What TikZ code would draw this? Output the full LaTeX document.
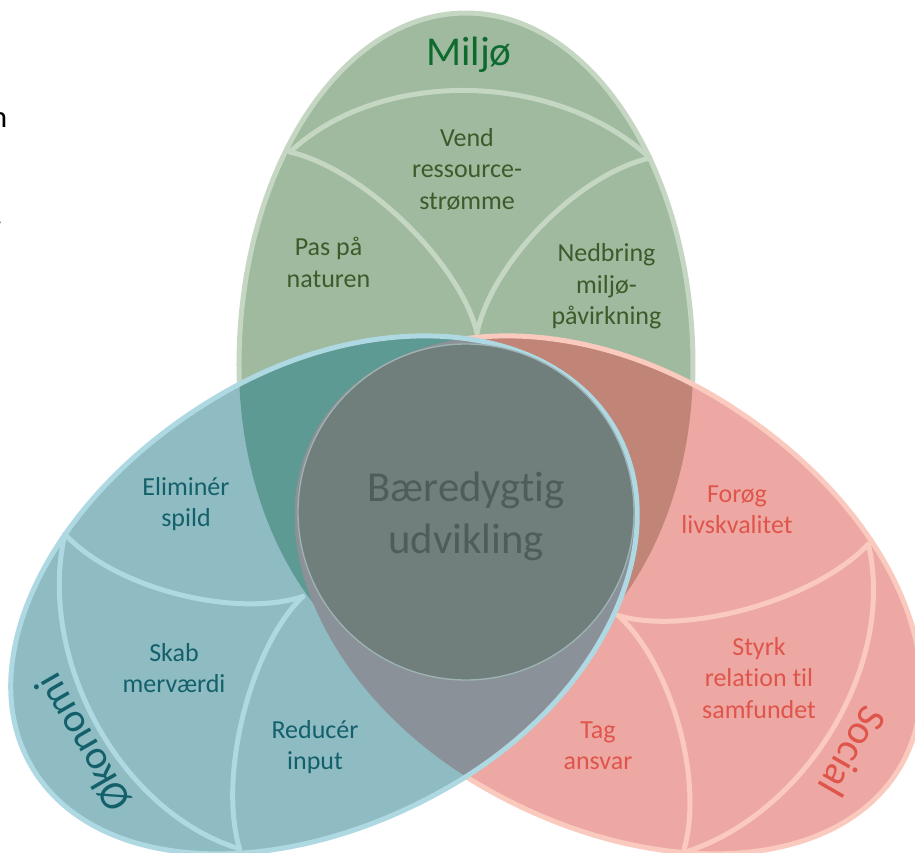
\documentclass[tikz,border=0pt]{standalone}
\usepackage{fontspec}
\setmainfont{Carlito}[Ligatures={NoCommon,NoContextual}]
\definecolor{gfill}{HTML}{9FBA9F}
\definecolor{gline}{HTML}{C5D7C2}
\definecolor{gtitle}{HTML}{0E6A2E}
\definecolor{gtext}{HTML}{3B5C2A}
\definecolor{bfill}{HTML}{8FBCC3}
\definecolor{bline}{HTML}{AED8E2}
\definecolor{btext}{HTML}{13606B}
\definecolor{rfill}{HTML}{EDA8A3}
\definecolor{rline}{HTML}{FACABE}
\definecolor{rtext}{HTML}{E0554B}
\definecolor{gbover}{HTML}{5E9A94}
\definecolor{grover}{HTML}{C08577}
\definecolor{brover}{HTML}{8A9199}
\definecolor{circfill}{HTML}{707F7C}
\definecolor{circline}{HTML}{9DB3B4}
\definecolor{circtext}{HTML}{4F5C59}
\newcommand\petal[2][]{\path[#2] #1 (227,150) arc[start angle=0,end angle=180,x radius=227,y radius=352] arc[start angle=180,end angle=360,x radius=227,y radius=322] -- cycle;}
\newcommand\bigcw{(-3000,-3000) -- (-3000,3000) -- (3000,3000) -- (3000,-3000) -- cycle}
\begin{document}
\begin{tikzpicture}[x=0.75pt,y=0.75pt,
  item/.style={align=center,inner sep=0pt,font=\fontsize{19.5}{23.6}\selectfont},
  title/.style={inner sep=0pt,font=\fontsize{30.75}{36}\selectfont},
  centertext/.style={align=center,inner sep=0pt,text=circtext,font=\fontsize{32}{39}\selectfont},
  stray/.style={inner sep=0pt,text=black,font=\fontsize{23}{28}\selectfont},
  divider/.style={line width=3.75pt,line cap=round},
  outline/.style={line width=3.75pt}]
\useasboundingbox (-466,-338) rectangle (449,515);
\clip (-466,-338) rectangle (449,515);
% fills
\petal{fill=gfill}
\petal{fill=rfill,rotate=-120}
\petal{fill=bfill,rotate=120}
% overlaps
\begin{scope}\petal{clip,rotate=120}\petal{fill=gbover}\end{scope}
\begin{scope}\petal{clip,rotate=-120}\petal{fill=grover}\end{scope}
\begin{scope}\petal{clip,rotate=120}\petal{fill=brover,rotate=-120}\end{scope}
% dividers
\foreach \ang/\col in {0/gline,120/bline,-120/rline}{
  \begin{scope}[rotate=\ang]
    \draw[divider,draw=\col] (-176,363) .. controls (-85,448) and (90,444) .. (184,357);
    \draw[divider,draw=\col] (-176,363) .. controls (-100,345) and (-5,250) .. (11,182);
    \draw[divider,draw=\col] (184,357) .. controls (110,340) and (25,250) .. (11,182);
  \end{scope}}
% outlines (each one hidden where a later petal lies over it)
\begin{scope}
  \petal[\bigcw]{clip,rotate=120}
  \begin{scope}
    \petal[\bigcw]{clip,rotate=-120}
    \petal{draw=gline,outline}
  \end{scope}
  \petal{draw=rline,outline,rotate=-120}
\end{scope}
\petal{draw=bline,outline,rotate=120}
% centre circle
\path[fill=circfill,draw=circline,line width=1pt] (0,3) circle[radius=168];
% texts
\node[title,text=gtitle] (miljo) at (3,460) {Miljø};
\node[item,text=gtext] (vend) at (1,346) {Vend\\ressource-\\strømme};
\node[item,text=gtext] (pas) at (-137.5,252.5) {Pas på\\naturen};
\node[item,text=gtext] (ned) at (140.5,228.5) {Nedbring\\miljø-\\påvirkning};
\node[item,text=btext] (elim) at (-280,11) {Eliminér\\spild};
\node[item,text=btext] (skab) at (-292,-153) {Skab\\merværdi};
\node[item,text=btext] (reduc) at (-151,-232) {Reducér\\input};
\node[title,text=btext,rotate=120] (okon) at (-383,-228) {Økonomi};
\node[item,text=rtext] (forog) at (271,5) {Forøg\\livskvalitet};
\node[item,text=rtext] (styrk) at (293,-163) {Styrk\\relation til\\samfundet};
\node[item,text=rtext] (tag) at (132,-231) {Tag\\ansvar};
\node[title,text=rtext,rotate=-120] (social) at (387,-237) {Social};
\node[centertext] (bu) at (0,-1) {Bæredygtig\\udvikling};
% cut-off text at the left margin
\node[stray,anchor=base east] (s1) at (-458.5,387) {n};
\node[stray,anchor=base east] (s2) at (-463,290) {.};
\end{tikzpicture}
\end{document}
